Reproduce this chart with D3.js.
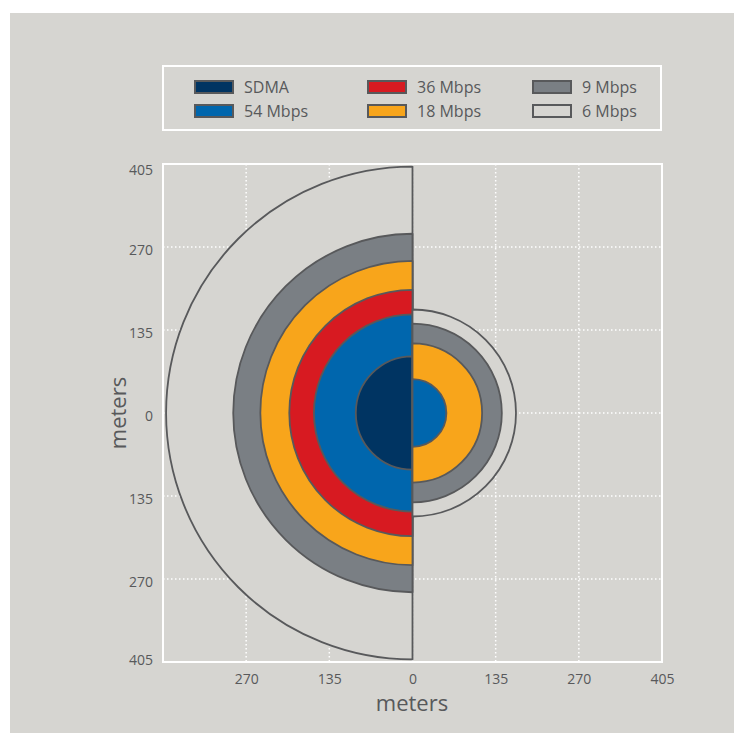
<!DOCTYPE html>
<html>
<head>
<meta charset="utf-8">
<script src="https://cdn.jsdelivr.net/npm/d3@7"></script>
<style>
  body { margin: 0; background: #ffffff; }
  text { font-family: "Open Sans", sans-serif; fill: #58595b; }
</style>
</head>
<body>
<script>
// data rates and coverage radii (meters), left = one side, right = other side
var categories = ["SDMA", "54 Mbps", "36 Mbps", "18 Mbps", "9 Mbps", "6 Mbps"];
var leftRadius = [92, 160, 200, 247, 291, 400];
var rightRadius = [null, 55, null, 113, 145, 168];
var colors = ["#003462", "#0066ad", "#d71a21", "#f8a51b", "#7a7f84", "#d6d5d1"];
var yTicks = [-405, -270, -135, 0, 135, 270, 405];
var xTicks = [-270, -135, 0, 135, 270, 405];
var gridValues = [-270, -135, 0, 135, 270];

var svgWidth = 734;
var svgHeight = 733;
var bg = "#d6d5d1";
var ink = "#58595b";

var plot = { left: 163, right: 662, top: 164, bottom: 662 };

var svg = d3.select("body")
    .append("svg")
    .attr("width", svgWidth)
    .attr("height", svgHeight);

svg.append("rect")
    .attr("x", 10).attr("y", 13)
    .attr("width", svgWidth - 10).attr("height", svgHeight - 13)
    .attr("fill", bg);

var xScale = d3.scaleLinear().domain([-405, 405]).range([plot.left, plot.right]);
var yScale = d3.scaleLinear().domain([-405, 405]).range([plot.bottom, plot.top]);
var rScale = d3.scaleLinear().domain([0, 405]).range([0, (plot.right - plot.left) / 2]);

// grid
var grid = svg.append("g")
    .attr("stroke", "#ffffff")
    .attr("stroke-width", 1.5)
    .attr("stroke-dasharray", "1.5,2.5");

grid.selectAll("line.v")
    .data(gridValues)
    .enter().append("line")
    .attr("x1", d => xScale(d)).attr("x2", d => xScale(d))
    .attr("y1", plot.top).attr("y2", plot.bottom);

grid.selectAll("line.h")
    .data(gridValues)
    .enter().append("line")
    .attr("y1", d => yScale(d)).attr("y2", d => yScale(d))
    .attr("x1", plot.left).attr("x2", plot.right);

// half discs
var cx = xScale(0), cy = yScale(0);
var arc = d3.arc().innerRadius(0);

function halves(data, start, end) {
    var items = data.map((r, i) => ({ r: r, i: i }))
        .filter(d => d.r !== null)
        .sort((a, b) => b.r - a.r);
    svg.append("g")
        .attr("transform", `translate(${cx}, ${cy})`)
        .selectAll("path")
        .data(items)
        .enter().append("path")
        .attr("d", d => arc({ outerRadius: rScale(d.r), startAngle: start, endAngle: end }))
        .attr("fill", d => colors[d.i])
        .attr("stroke", ink)
        .attr("stroke-width", 1.8)
        .attr("stroke-linejoin", "round");
}
halves(leftRadius, Math.PI, 2 * Math.PI);
halves(rightRadius, 0, Math.PI);

// frame
svg.append("rect")
    .attr("x", plot.left).attr("y", plot.top)
    .attr("width", plot.right - plot.left).attr("height", plot.bottom - plot.top)
    .attr("fill", "none")
    .attr("stroke", "#ffffff")
    .attr("stroke-width", 2);

// axes
var leftAxis = d3.axisLeft(yScale).tickValues(yTicks).tickSize(0).tickPadding(10)
    .tickFormat(d => Math.abs(d));
var bottomAxis = d3.axisBottom(xScale).tickValues(xTicks).tickSize(0).tickPadding(12)
    .tickFormat(d => Math.abs(d));

var ya = svg.append("g").attr("transform", `translate(${plot.left}, 0)`).call(leftAxis);
var xa = svg.append("g").attr("transform", `translate(0, ${plot.bottom})`).call(bottomAxis);
[ya, xa].forEach(function(a) {
    a.select(".domain").remove();
    a.selectAll("text")
        .attr("fill", ink)
        .style("font-size", "14px")
        .style("font-family", "'Open Sans', sans-serif");
});
ya.selectAll("text").attr("dy", d => d === 405 ? "0.75em" : d === -405 ? "0.15em" : "0.5em");

svg.append("text")
    .attr("x", 412).attr("y", 711)
    .attr("text-anchor", "middle")
    .style("font-size", "22px")
    .text("meters");

svg.append("text")
    .attr("transform", "translate(126, 413) rotate(-90)")
    .attr("text-anchor", "middle")
    .style("font-size", "22px")
    .text("meters");

// legend
svg.append("rect")
    .attr("x", 163).attr("y", 66)
    .attr("width", 498).attr("height", 64)
    .attr("fill", "none")
    .attr("stroke", "#ffffff")
    .attr("stroke-width", 2);

var legendOrder = [0, 1, 2, 3, 4, 5];
var colX = [195, 368, 533];
var rowY = [81, 105];

var legend = svg.selectAll("g.legend")
    .data(legendOrder)
    .enter().append("g")
    .attr("transform", (d, k) => `translate(${colX[Math.floor(k / 2)]}, ${rowY[k % 2]})`);

legend.append("rect")
    .attr("width", 38).attr("height", 12)
    .attr("fill", d => colors[d])
    .attr("stroke", ink)
    .attr("stroke-width", 2);

legend.append("text")
    .attr("x", 49).attr("y", 6)
    .attr("dy", "0.36em")
    .style("font-size", "16px")
    .text(d => categories[d]);
</script>
</body>
</html>
